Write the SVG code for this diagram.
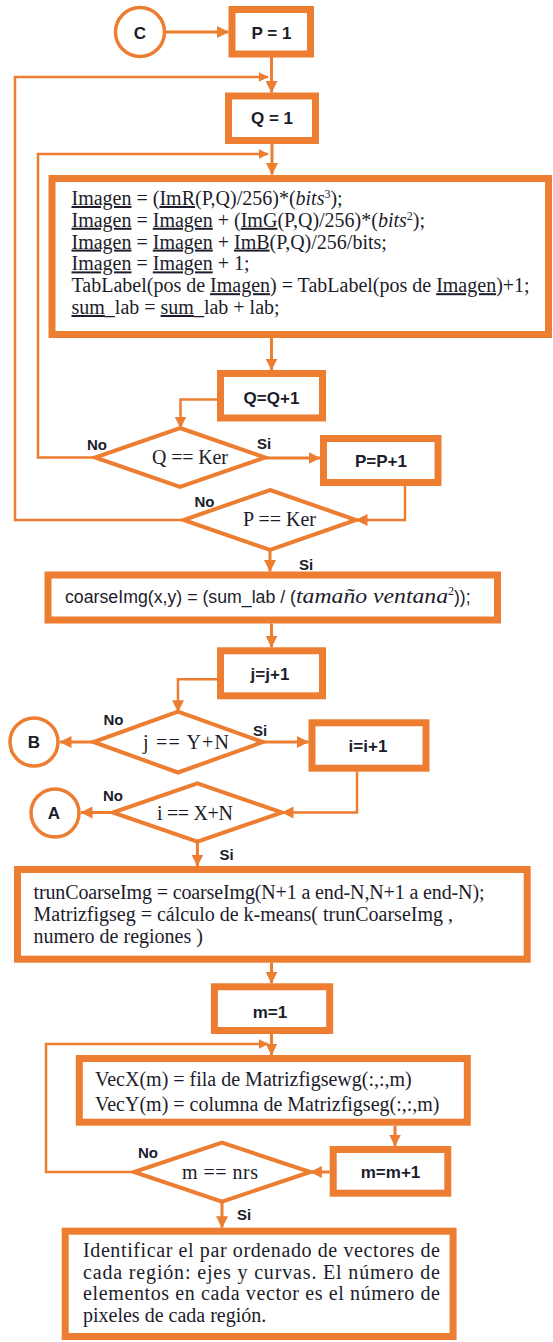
<svg xmlns="http://www.w3.org/2000/svg" width="553" height="1342" viewBox="0 0 553 1342">
<style>
.box{fill:#fff;stroke:#ED7D31;stroke-width:7}
.dia{fill:#fff;stroke:#ED7D31;stroke-width:4}
.circ{fill:#fff;stroke:#ED7D31;stroke-width:3.5}
.main{fill:none;stroke:#ED7D31;stroke-width:3}
.fb{fill:none;stroke:#ED7D31;stroke-width:2.5}
.lbl{font-family:"Liberation Sans",Arial,sans-serif;font-weight:bold;font-size:17px;fill:#1c1c2a;text-anchor:middle}
.yn{font-family:"Liberation Sans",Arial,sans-serif;font-weight:bold;font-size:15px;fill:#1c1c2a;text-anchor:middle}
.ser{font-family:"Liberation Serif","Times New Roman",serif;font-size:20px;fill:#1c1c2a}
.dtx{font-family:"Liberation Serif","Times New Roman",serif;font-size:20px;fill:#1c1c2a;text-anchor:middle}
.it{font-style:italic}
.ul{text-decoration:underline}
</style>
<defs>
<marker id="ah" viewBox="0 0 12 12" refX="11.5" refY="6" markerWidth="12" markerHeight="12" orient="auto" markerUnits="userSpaceOnUse"><path d="M0,0 L12,6 L0,12 z" fill="#ED7D31"/></marker>
<marker id="ahs" viewBox="0 0 10 10" refX="9.5" refY="5" markerWidth="10" markerHeight="10" orient="auto" markerUnits="userSpaceOnUse"><path d="M0,0 L10,5 L0,10 z" fill="#ED7D31"/></marker>
</defs>

<g id="connectors">
<path class="main" d="M164.5,32 L228.5,32" marker-end="url(#ah)"/>
<path class="main" d="M271.5,57 L271.5,92.5" marker-end="url(#ah)"/>
<path class="fb" d="M183.5,520 L15,520 L15,77 L268,77" marker-end="url(#ahs)"/>
<path class="main" d="M272,144 L272,174.5" marker-end="url(#ah)"/>
<path class="fb" d="M95,457.5 L38,457.5 L38,154 L268,154" marker-end="url(#ahs)"/>
<path class="main" d="M271.5,338 L271.5,370" marker-end="url(#ah)"/>
<path class="fb" d="M217,399.5 L180.5,399.5 L180.5,428" marker-end="url(#ah)"/>
<path class="main" d="M265,458 L320,458" marker-end="url(#ah)"/>
<path class="fb" d="M405,486 L405,520 L356,520" marker-end="url(#ah)"/>
<path class="main" d="M270,550 L270,571.5" marker-end="url(#ah)"/>
<path class="main" d="M271.5,623.5 L271.5,647.3" marker-end="url(#ah)"/>
<path class="fb" d="M217,679.3 L178,679.3 L178,711.7" marker-end="url(#ah)"/>
<path class="main" d="M93.4,742 L60,742" marker-end="url(#ah)"/>
<path class="main" d="M263,742 L308.5,742" marker-end="url(#ah)"/>
<path class="fb" d="M357,771.7 L357,812.5 L282,812.5" marker-end="url(#ah)"/>
<path class="main" d="M112.8,812.5 L81,812.5" marker-end="url(#ah)"/>
<path class="main" d="M197.4,841.7 L197.4,866" marker-end="url(#ah)"/>
<path class="main" d="M271.5,962.7 L271.5,983.3" marker-end="url(#ah)"/>
<path class="main" d="M271.5,1034 L271.5,1055" marker-end="url(#ah)"/>
<path class="fb" d="M134,1172 L46,1172 L46,1044 L268,1044" marker-end="url(#ahs)"/>
<path class="main" d="M395,1125.7 L395,1146" marker-end="url(#ah)"/>
<path class="main" d="M329.7,1172 L310.3,1172" marker-end="url(#ah)"/>
<path class="main" d="M222,1201.7 L222,1227.7" marker-end="url(#ah)"/>
</g>

<g id="nodeC"><circle class="circ" cx="140" cy="32" r="24.5"/><text class="lbl" x="140" y="38.5">C</text></g>
<g id="nodeP1"><rect class="box" x="232" y="9.5" width="78.5" height="44.5"/><text class="lbl" x="271.5" y="38.5">P = 1</text></g>
<g id="nodeQ1"><rect class="box" x="228.5" y="96" width="87" height="44.5"/><text class="lbl" x="272" y="124">Q = 1</text></g>

<g id="nodeImagen">
<rect class="box" x="52" y="178.5" width="496.5" height="156"/>
<text class="ser" x="71.5" y="205"><tspan class="ul">Imagen</tspan> = (<tspan class="ul">ImR</tspan>(P,Q)/256)*(<tspan class="it">bits</tspan><tspan dy="-7" font-size="12">3</tspan><tspan dy="7">);</tspan></text>
<text class="ser" x="71.5" y="226.8"><tspan class="ul">Imagen</tspan> = <tspan class="ul">Imagen</tspan> + (<tspan class="ul">ImG</tspan>(P,Q)/256)*(<tspan class="it">bits</tspan><tspan dy="-7" font-size="12">2</tspan><tspan dy="7">);</tspan></text>
<text class="ser" x="71.5" y="248.6"><tspan class="ul">Imagen</tspan> = <tspan class="ul">Imagen</tspan> + <tspan class="ul">ImB</tspan>(P,Q)/256/bits;</text>
<text class="ser" x="71.5" y="270.4"><tspan class="ul">Imagen</tspan> = <tspan class="ul">Imagen</tspan> + 1;</text>
<text class="ser" x="71.5" y="292.2">TabLabel(pos de <tspan class="ul">Imagen</tspan>) = TabLabel(pos de <tspan class="ul">Imagen</tspan>)+1;</text>
<text class="ser" x="71.5" y="314"><tspan class="ul">sum</tspan>_lab = <tspan class="ul">sum</tspan>_lab + lab;</text>
</g>

<g id="nodeQinc"><rect class="box" x="220.5" y="373.5" width="102" height="44.5"/><text class="lbl" x="271.5" y="404">Q=Q+1</text></g>
<g id="nodeQKer"><polygon class="dia" points="180,428 265,457.5 180,487 95,457.5"/><text class="dtx" x="190" y="464" textLength="76">Q == Ker</text></g>
<g id="nodePinc"><rect class="box" x="323.5" y="438.5" width="114.5" height="44"/><text class="lbl" x="381" y="467">P=P+1</text></g>
<g id="nodePKer"><polygon class="dia" points="270,490 356,520 270,550 183.5,520"/><text class="dtx" x="279.5" y="526" textLength="73">P == Ker</text></g>

<g id="nodeCoarse">
<rect class="box" x="48" y="575" width="449.5" height="45"/>
<text x="65" y="603" fill="#1c1c2a"><tspan font-family="Liberation Sans, Arial, sans-serif" font-size="17.5" textLength="231" lengthAdjust="spacingAndGlyphs">coarseImg(x,y) = (sum_lab / (</tspan><tspan font-family="Liberation Serif, Times New Roman, serif" font-style="italic" font-size="20" textLength="152" lengthAdjust="spacingAndGlyphs">tamaño ventana</tspan><tspan font-family="Liberation Serif, serif" font-size="12" dy="-8">2</tspan><tspan font-family="Liberation Sans, Arial, sans-serif" font-size="17.5" dy="8">));</tspan></text>
</g>

<g id="nodeJinc"><rect class="box" x="220.5" y="650.8" width="102" height="45"/><text class="lbl" x="270" y="680">j=j+1</text></g>
<g id="nodeJcheck"><polygon class="dia" points="178,711.7 263,742 178,772.5 93.4,742"/><text class="dtx" x="186" y="749" textLength="86">j == Y+N</text></g>
<g id="nodeB"><circle class="circ" cx="34" cy="742" r="24"/><text class="lbl" x="34" y="748">B</text></g>
<g id="nodeIinc"><rect class="box" x="312" y="722.8" width="114" height="45.4"/><text class="lbl" x="368" y="752">i=i+1</text></g>
<g id="nodeIcheck"><polygon class="dia" points="197.4,783.3 282,812.5 197.4,841.7 112.8,812.5"/><text class="dtx" x="195" y="820" textLength="76">i == X+N</text></g>
<g id="nodeA"><circle class="circ" cx="55" cy="813" r="24"/><text class="lbl" x="54" y="819">A</text></g>

<g id="nodeTrunc">
<rect class="box" x="17.5" y="869.5" width="509.7" height="89.7"/>
<text class="ser" x="33.5" y="899" textLength="451">trunCoarseImg = coarseImg(N+1 a end-N,N+1 a end-N);</text>
<text class="ser" x="33.5" y="921">Matrizfigseg = cálculo de k-means( trunCoarseImg ,</text>
<text class="ser" x="33.5" y="943">numero de regiones )</text>
</g>

<g id="nodeM1"><rect class="box" x="214.4" y="986.8" width="115.3" height="43.7"/><text class="lbl" x="270" y="1018">m=1</text></g>

<g id="nodeVec">
<rect class="box" x="79.3" y="1058.5" width="388" height="63.7"/>
<text class="ser" x="95" y="1086">VecX(m) = fila de Matrizfigsewg(:,:,m)</text>
<text class="ser" x="95" y="1111">VecY(m) = columna de Matrizfigseg(:,:,m)</text>
</g>

<g id="nodeMinc"><rect class="box" x="333.2" y="1149.5" width="114.6" height="43.7"/><text class="lbl" x="390.5" y="1178">m=m+1</text></g>
<g id="nodeMcheck"><polygon class="dia" points="222,1142.7 310.3,1172 222,1201.7 134,1172"/><text class="dtx" x="220" y="1179" textLength="76">m == nrs</text></g>

<g id="nodeFinal">
<rect class="box" x="65.2" y="1231.2" width="387.9" height="105.3"/>
<text class="ser" x="83" y="1257" textLength="357" lengthAdjust="spacing">Identificar el par ordenado de vectores de</text>
<text class="ser" x="83" y="1278.5" textLength="357" lengthAdjust="spacing">cada región: ejes y curvas. El número de</text>
<text class="ser" x="83" y="1300" textLength="357" lengthAdjust="spacing">elementos en cada vector es el número de</text>
<text class="ser" x="83" y="1322">pixeles de cada región.</text>
</g>

<g id="labels">
<text class="yn" x="97" y="450">No</text>
<text class="yn" x="264" y="449">Si</text>
<text class="yn" x="204.5" y="506.5">No</text>
<text class="yn" x="306" y="570">Si</text>
<text class="yn" x="113.5" y="725">No</text>
<text class="yn" x="260" y="736">Si</text>
<text class="yn" x="113" y="801">No</text>
<text class="yn" x="226.5" y="860">Si</text>
<text class="yn" x="148" y="1158">No</text>
<text class="yn" x="244" y="1220">Si</text>
</g>
</svg>
